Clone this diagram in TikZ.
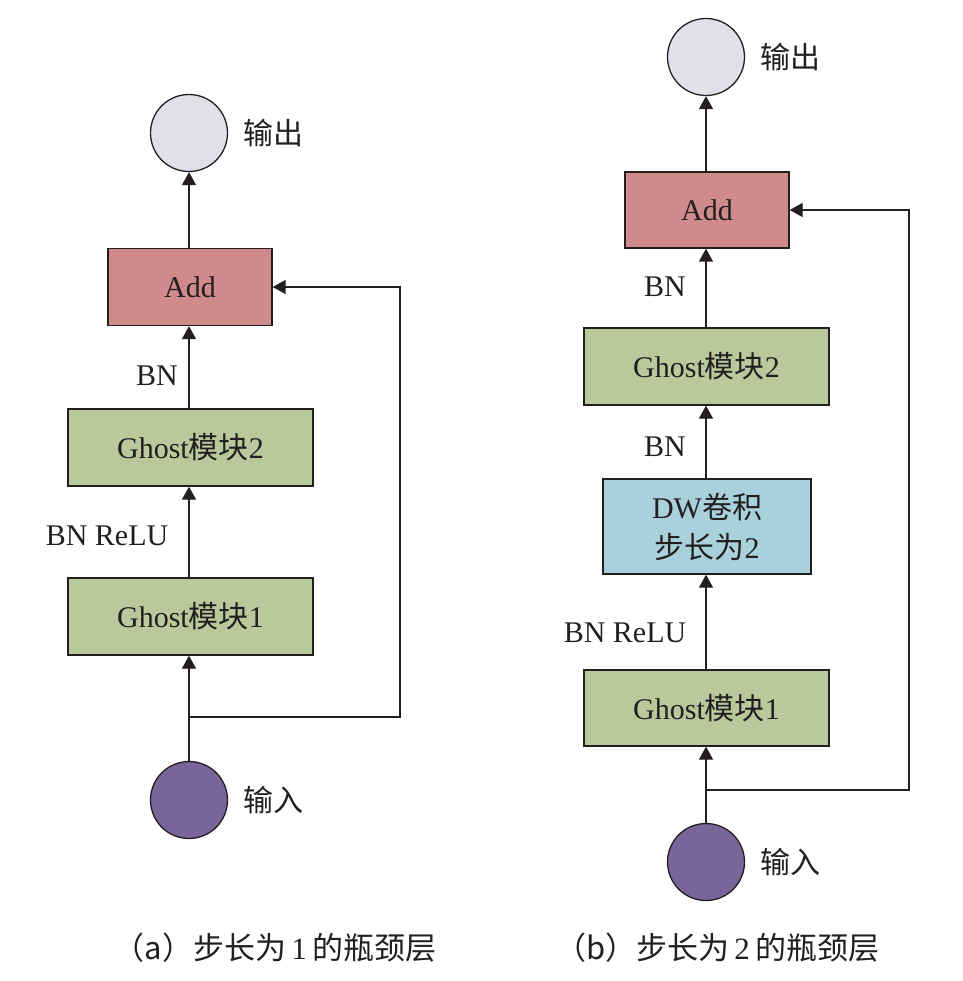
\documentclass[tikz,border=0pt]{standalone}
\usepackage{fontspec}
\setmainfont{Liberation Serif}
\newfontfamily\cjk{Noto Sans CJK SC}
\usetikzlibrary{arrows.meta}
\definecolor{addc}{HTML}{D08A8B}
\definecolor{ghostc}{HTML}{B9C99B}
\definecolor{dwc}{HTML}{A9D1DB}
\definecolor{outc}{HTML}{E3DFE8}
\definecolor{inc}{HTML}{7A659B}
\definecolor{linec}{HTML}{231F20}
\newcommand{\zh}[1]{{\cjk #1}}
\begin{document}
\begin{tikzpicture}[x=1pt,y=-1pt,
  every node/.style={font=\fontsize{30}{34}\selectfont, text=linec},
  blockbox/.style={draw=linec, line width=1.3pt, inner sep=0pt},
  circ/.style={draw=linec, line width=1.3pt, circle, minimum size=77pt, inner sep=0pt},
  conn/.style={draw=linec, line width=1.3pt, -{Triangle[length=13pt,width=14pt]}},
  plain/.style={draw=linec, line width=1.3pt},
  caption/.style={font=\fontsize{31}{36}\selectfont}]
\useasboundingbox (0,0) rectangle (962,981);
% ---- left (a)
\node[circ, fill=outc] (outA) at (189,133) {};
\node[anchor=west] (outAl) at (240,133) {\zh{输出}};
\node[blockbox, fill=addc, minimum width=164pt, minimum height=77pt] (addA) at (190,287) {Add};
\node[blockbox, fill=ghostc, minimum width=245pt, minimum height=77pt] (g2A) at (190.5,447.5) {Ghost\zh{模块}2};
\node[blockbox, fill=ghostc, minimum width=245pt, minimum height=77pt] (g1A) at (190.5,616.5) {Ghost\zh{模块}1};
\node[circ, fill=inc] (inA) at (189,800) {};
\node[anchor=west] (inAl) at (240,800) {\zh{输入}};
\node (bnA) at (157,376) {BN};
\node (bnreluA) at (107,536) {BN ReLU};
\coordinate (jA) at (189,717);
\coordinate (cA1) at (400,717);
\coordinate (cA2) at (400,287);
\draw[conn] (addA.north -| outA) -- (outA.south);
\draw[conn] (g2A.north -| outA) -- (addA.south -| outA);
\draw[conn] (g1A.north -| outA) -- (g2A.south -| outA);
\draw[plain] (inA.north) -- (jA);
\draw[conn] (jA) -- (g1A.south -| jA);
\draw[conn] (jA) -- (cA1) -- (cA2) -- (addA.east);
\node[caption] (capA) at (275,948) {\zh{（a）步长为}\,1\,\zh{的瓶颈层}};
% ---- right (b)
\node[circ, fill=outc] (outB) at (706,57) {};
\node[anchor=west] (outBl) at (757,57) {\zh{输出}};
\node[blockbox, fill=addc, minimum width=164pt, minimum height=76pt] (addB) at (707,210) {Add};
\node[blockbox, fill=ghostc, minimum width=245pt, minimum height=77pt] (g2B) at (706.5,366.5) {Ghost\zh{模块}2};
\node[blockbox, fill=dwc, minimum width=208pt, minimum height=95pt, align=center, font=\fontsize{30}{40}\selectfont] (dwB) at (707,526.5) {DW\zh{卷积}\\\zh{步长为}2};
\node[blockbox, fill=ghostc, minimum width=245pt, minimum height=76pt] (g1B) at (706.5,708) {Ghost\zh{模块}1};
\node[circ, fill=inc] (inB) at (706,862) {};
\node[anchor=west] (inBl) at (757,862) {\zh{输入}};
\node (bnB1) at (665,287) {BN};
\node (bnB2) at (665,447) {BN};
\node (bnreluB) at (625,633) {BN ReLU};
\coordinate (jB) at (706,790);
\coordinate (cB1) at (909,790);
\coordinate (cB2) at (909,210);
\draw[conn] (addB.north -| outB) -- (outB.south);
\draw[conn] (g2B.north -| outB) -- (addB.south -| outB);
\draw[conn] (dwB.north -| outB) -- (g2B.south -| outB);
\draw[conn] (g1B.north -| outB) -- (dwB.south -| outB);
\draw[plain] (inB.north) -- (jB);
\draw[conn] (jB) -- (g1B.south -| jB);
\draw[conn] (jB) -- (cB1) -- (cB2) -- (addB.east);
\node[caption] (capB) at (717,948) {\zh{（b）步长为}\,2\,\zh{的瓶颈层}};
\end{tikzpicture}
\end{document}
